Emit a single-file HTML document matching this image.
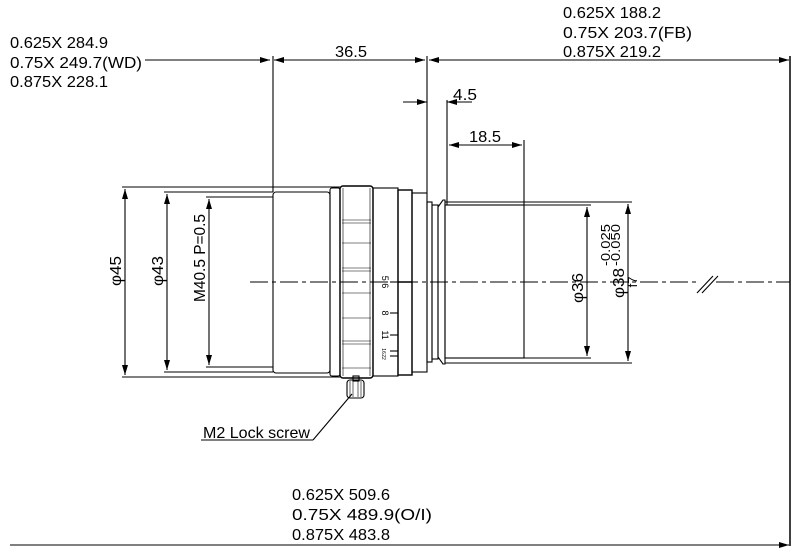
<!DOCTYPE html>
<html><head><meta charset="utf-8"><style>
html,body{margin:0;padding:0;background:#fff;}
svg{display:block;}
text{font-family:"Liberation Sans Narrow","Liberation Sans",sans-serif;fill:#000;}
</style></head><body>
<svg width="800" height="556" viewBox="0 0 800 556" xmlns="http://www.w3.org/2000/svg">
<defs>
<marker id="a" viewBox="0 0 10 6" refX="10" refY="3" markerWidth="10" markerHeight="6" orient="auto-start-reverse" markerUnits="userSpaceOnUse"><path d="M0,0 L10,3 L0,6 z" fill="#000"/></marker>
</defs>
<g stroke="#000" stroke-width="1.1" fill="none">
<line x1="250" y1="282" x2="700" y2="282" stroke-dasharray="18,4,4,4"/>
<line x1="716" y1="282" x2="790" y2="282" stroke-dasharray="18,4,4,4"/>
<line x1="697" y1="293" x2="713" y2="276"/><line x1="702" y1="293" x2="718" y2="276"/>

<line x1="145" y1="60" x2="270" y2="60" marker-end="url(#a)"/>
<line x1="274" y1="60" x2="425" y2="60" marker-start="url(#a)" marker-end="url(#a)"/>
<line x1="429" y1="60" x2="789" y2="60" marker-start="url(#a)" marker-end="url(#a)"/>
<line x1="273" y1="56" x2="273" y2="192"/>
<line x1="427" y1="56" x2="427" y2="193"/>
<line x1="790" y1="56" x2="790" y2="546" stroke-width="1.5"/>
<line x1="447" y1="100" x2="447" y2="205"/>
<line x1="524" y1="140" x2="524" y2="205"/>
<line x1="403" y1="102" x2="427" y2="102" marker-end="url(#a)"/>
<line x1="472" y1="102" x2="447" y2="102" marker-end="url(#a)"/>
<line x1="449" y1="145" x2="522" y2="145" marker-start="url(#a)" marker-end="url(#a)"/>

<line x1="122" y1="187" x2="340" y2="187"/>
<line x1="122" y1="377" x2="340" y2="377"/>
<line x1="164" y1="192" x2="273" y2="192"/>
<line x1="164" y1="372" x2="273" y2="372"/>
<line x1="206" y1="197" x2="273" y2="197"/>
<line x1="206" y1="367" x2="273" y2="367"/>
<line x1="125" y1="189" x2="125" y2="375" marker-start="url(#a)" marker-end="url(#a)"/>
<line x1="167" y1="194" x2="167" y2="370" marker-start="url(#a)" marker-end="url(#a)"/>
<line x1="209" y1="199" x2="209" y2="365" marker-start="url(#a)" marker-end="url(#a)"/>

<line x1="522" y1="205" x2="591" y2="205"/>
<line x1="522" y1="358" x2="591" y2="358"/>
<line x1="445" y1="202" x2="632" y2="202"/>
<line x1="445" y1="363" x2="632" y2="363"/>
<line x1="587" y1="207" x2="587" y2="356" marker-start="url(#a)" marker-end="url(#a)"/>
<line x1="628" y1="204" x2="628" y2="361" marker-start="url(#a)" marker-end="url(#a)"/>

<rect x="273" y="192" width="57" height="181" rx="3"/>
<rect x="330" y="188" width="10" height="188" rx="2"/>
<rect x="340" y="186" width="33" height="192" rx="3" stroke-width="1.4"/>
<g stroke-width="0.6">
<line x1="342" y1="220" x2="371" y2="220"/><line x1="342" y1="223" x2="371" y2="223"/>
<line x1="342" y1="243" x2="371" y2="243"/><line x1="342" y1="268" x2="371" y2="268"/>
<line x1="342" y1="271" x2="371" y2="271"/><line x1="342" y1="293" x2="371" y2="293"/>
<line x1="342" y1="318" x2="371" y2="318"/><line x1="342" y1="341" x2="371" y2="341"/>
<line x1="342" y1="344" x2="371" y2="344"/><line x1="342" y1="368" x2="371" y2="368"/>
<line x1="343" y1="188" x2="343" y2="376"/><line x1="370" y1="188" x2="370" y2="376"/>
</g>
<rect x="373" y="188" width="25" height="188"/>
<rect x="398" y="190" width="14" height="185" stroke-width="1.4"/>
<rect x="412" y="193" width="15" height="179"/>
<rect x="427" y="202" width="5" height="160"/>
<rect x="432" y="205" width="6" height="154"/>
<path d="M438,207 L443,200 L445,200 L445,364 L443,364 L438,357 Z"/>
<rect x="445" y="205" width="79" height="153"/>
<line x1="390" y1="282" x2="398" y2="282"/>
<line x1="390" y1="313" x2="398" y2="313"/>
<line x1="390" y1="335" x2="398" y2="335"/>
<line x1="390" y1="351" x2="398" y2="351"/>
<line x1="390" y1="356" x2="398" y2="356"/>
<line x1="398" y1="282" x2="412" y2="282" stroke-width="1.5"/>

<rect x="353" y="376" width="6" height="5"/>
<rect x="347" y="380" width="17" height="18" rx="3"/>
<g stroke-width="0.6"><line x1="350" y1="381" x2="350" y2="397"/><line x1="353" y1="381" x2="353" y2="397"/><line x1="358" y1="381" x2="358" y2="397"/><line x1="361" y1="381" x2="361" y2="397"/></g>
<line x1="352" y1="394" x2="313" y2="440"/>
<line x1="201" y1="440" x2="313" y2="440"/>

<line x1="10" y1="545" x2="789" y2="545" marker-end="url(#a)"/>
</g>

<g font-size="16">
<text x="10" y="48" textLength="98" lengthAdjust="spacingAndGlyphs">0.625X 284.9</text>
<text x="10" y="68" textLength="132" lengthAdjust="spacingAndGlyphs">0.75X  249.7(WD)</text>
<text x="10" y="87" textLength="98" lengthAdjust="spacingAndGlyphs">0.875X 228.1</text>
<text x="563" y="18" textLength="98" lengthAdjust="spacingAndGlyphs">0.625X 188.2</text>
<text x="563" y="38" textLength="129" lengthAdjust="spacingAndGlyphs">0.75X  203.7(FB)</text>
<text x="563" y="57" textLength="98" lengthAdjust="spacingAndGlyphs">0.875X 219.2</text>
<text x="335" y="57" textLength="32" lengthAdjust="spacingAndGlyphs">36.5</text>
<text x="453" y="100" textLength="24" lengthAdjust="spacingAndGlyphs">4.5</text>
<text x="469" y="142" textLength="32" lengthAdjust="spacingAndGlyphs">18.5</text>
<text x="292" y="500" textLength="98" lengthAdjust="spacingAndGlyphs">0.625X 509.6</text>
<text x="292" y="520" textLength="140" lengthAdjust="spacingAndGlyphs">0.75X  489.9(O/I)</text>
<text x="292" y="540" textLength="98" lengthAdjust="spacingAndGlyphs">0.875X 483.8</text>
<text x="203" y="438" textLength="107" lengthAdjust="spacingAndGlyphs">M2 Lock screw</text>
<text transform="translate(121,271) rotate(-90)" text-anchor="middle" textLength="30" lengthAdjust="spacingAndGlyphs">φ45</text>
<text transform="translate(163,271) rotate(-90)" text-anchor="middle" textLength="30" lengthAdjust="spacingAndGlyphs">φ43</text>
<text transform="translate(205,258) rotate(-90)" text-anchor="middle" textLength="88" lengthAdjust="spacingAndGlyphs">M40.5 P=0.5</text>
<text transform="translate(583,288) rotate(-90)" text-anchor="middle" textLength="30" lengthAdjust="spacingAndGlyphs">φ36</text>
<text transform="translate(624,283) rotate(-90)" text-anchor="middle" textLength="30" lengthAdjust="spacingAndGlyphs">φ38</text>
<text transform="translate(637,282) rotate(-90)" text-anchor="middle" font-size="13">f7</text>
</g>
<g font-size="13">
<text transform="translate(610,266) rotate(-90)" textLength="42" lengthAdjust="spacingAndGlyphs">-0.025</text>
<text transform="translate(620,266) rotate(-90)" textLength="42" lengthAdjust="spacingAndGlyphs">-0.050</text>
</g>
<g font-size="9">
<text transform="translate(382,282) rotate(90)" text-anchor="middle">5.6</text>
<text transform="translate(382,313) rotate(90)" text-anchor="middle">8</text>
<text transform="translate(382,335) rotate(90)" text-anchor="middle">11</text>
<text transform="translate(382,351) rotate(90)" text-anchor="middle" font-size="5">16</text>
<text transform="translate(382,357) rotate(90)" text-anchor="middle" font-size="5">22</text>
</g>
</svg>
</body></html>
